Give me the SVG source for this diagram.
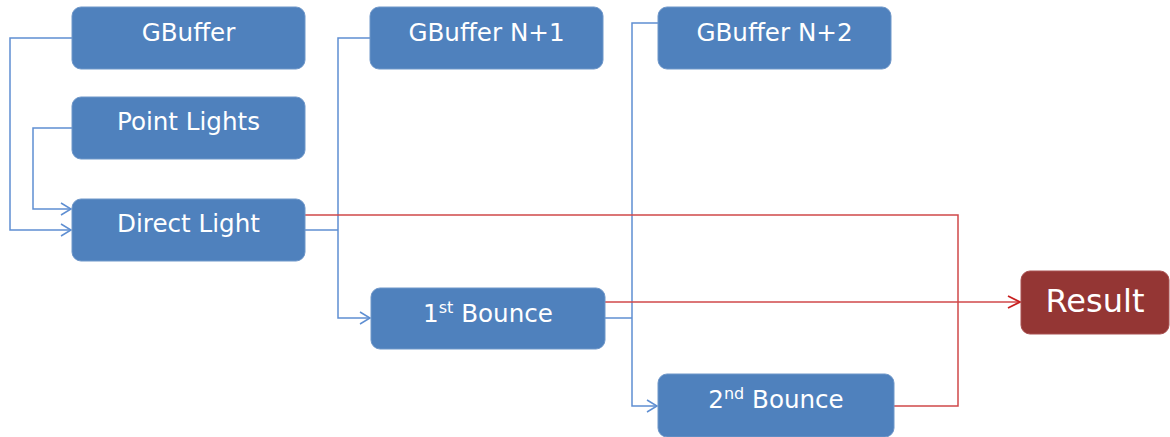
<svg xmlns="http://www.w3.org/2000/svg" width="1170" height="437" viewBox="0 0 1170 437">
<style>
.box{fill:#4f81bd;stroke:#6f97c9;stroke-width:1}
.res{fill:#943634;stroke:#a85050;stroke-width:1}
.t{font-family:"DejaVu Sans",Verdana,sans-serif;font-size:24.6px;fill:#ffffff;text-anchor:middle}
.sup{font-size:16px}
.b{fill:none;stroke:#5f8fd2;stroke-width:1.5}
.r{fill:none;stroke:#d0484a;stroke-width:1.5}
</style>
<defs>
<marker id="ab" markerUnits="userSpaceOnUse" markerWidth="14" markerHeight="16" refX="11" refY="7" orient="auto">
<path d="M1,1 L11,7 L1,13" fill="none" stroke="#5f8fd2" stroke-width="1.5"/>
</marker>
<marker id="ar" markerUnits="userSpaceOnUse" markerWidth="16" markerHeight="16" refX="13" refY="7" orient="auto">
<path d="M1,1 L13,7 L1,13" fill="none" stroke="#c81e1e" stroke-width="1.8"/>
</marker>
</defs>
<g id="connectors">
<path class="b" d="M72,38 H10 V230 H71" marker-end="url(#ab)"/>
<path class="b" d="M72,128 H33 V209 H71" marker-end="url(#ab)"/>
<path class="b" d="M305,230 H338"/>
<path class="b" d="M370,38 H338 V318 H370" marker-end="url(#ab)"/>
<path class="b" d="M605,318 H632"/>
<path class="b" d="M658,23 H632 V406 H657" marker-end="url(#ab)"/>
<path class="r" d="M305,215 H958 V406 H894"/>
<path class="r" d="M605,302 H1020" marker-end="url(#ar)"/>
</g>
<g id="gbuffer"><rect class="box" x="72" y="7" width="233" height="62" rx="9"/><text class="t" x="188.5" y="41">GBuffer</text></g>
<g id="point-lights"><rect class="box" x="72" y="97" width="233" height="62" rx="9"/><text class="t" x="188.5" y="130">Point Lights</text></g>
<g id="direct-light"><rect class="box" x="72" y="199" width="233" height="62" rx="9"/><text class="t" x="188.5" y="232">Direct Light</text></g>
<g id="gbuffer-n1"><rect class="box" x="370" y="7" width="233" height="62" rx="9"/><text class="t" x="486.5" y="41">GBuffer N+1</text></g>
<g id="bounce1"><rect class="box" x="371" y="288" width="234" height="61" rx="9"/><text class="t" x="488" y="322">1<tspan class="sup" dy="-9">st</tspan><tspan dy="9"> Bounce</tspan></text></g>
<g id="gbuffer-n2"><rect class="box" x="658" y="7" width="233" height="62" rx="9"/><text class="t" x="774.5" y="41">GBuffer N+2</text></g>
<g id="bounce2"><rect class="box" x="658" y="374" width="236" height="63" rx="9"/><text class="t" x="776" y="408">2<tspan class="sup" dy="-9">nd</tspan><tspan dy="9"> Bounce</tspan></text></g>
<g id="result"><rect class="res" x="1021" y="271" width="148" height="63" rx="9"/><text class="t" x="1095" y="312" style="font-size:32px">Result</text></g>
</svg>
